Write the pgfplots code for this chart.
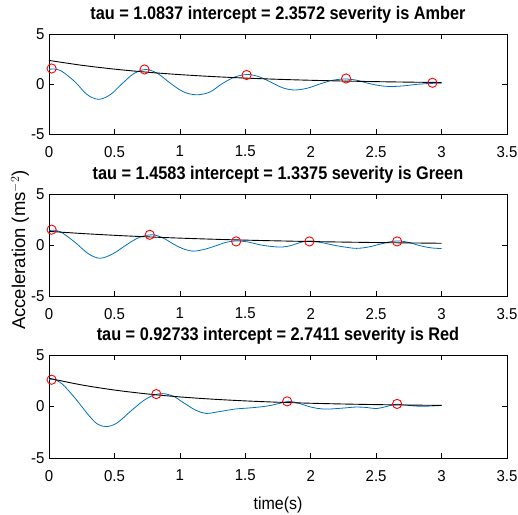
\documentclass[border=0pt]{standalone}
\usepackage{pgfplots}
\pgfplotsset{compat=1.18}
\usepackage{fontspec}
\setmainfont{Liberation Sans}
\definecolor{mblue}{rgb}{0,0.447,0.741}
\pgfplotsset{
  mstyle/.style={
    scale only axis, width=458pt,
    xmin=0, xmax=3.5, ymin=-5, ymax=5,
    xtick={0,0.5,...,3.5}, ytick={-5,0,5},
    xticklabels={0,0.5,1,1.5,2,2.5,3,3.5},
    tick align=inside, major tick length=5pt,
    tick style={black, line width=0.5pt},
    axis line style={black, line width=0.6pt},
    /pgf/number format/assume math mode=true,
    tick label style={font=\fontsize{15}{15}\selectfont, yscale=1.05},
    xticklabel style={yshift=-8pt},
    yticklabel style={xshift=-1pt},
    title style={font=\fontsize{16.3}{16.3}\selectfont\bfseries, at={(0.5,1)}, anchor=base, yshift=8.5pt, inner sep=0pt, yscale=1.12},
    clip=false,
  },
  blueline/.style={mblue, line width=0.8pt, smooth, tension=0.55, mark=none},
  blackline/.style={black, line width=0.9pt, smooth, mark=none},
  circs/.style={only marks, mark=o, mark size=4.6pt, red, mark options={line width=0.9pt}},
}
\begin{document}
\begin{tikzpicture}
\useasboundingbox (0pt,0pt) rectangle (518pt,514pt);
% ---- Axis 1 ----
\begin{axis}[mstyle, at={(49pt,380pt)}, anchor=south west, height=100pt,
  title={tau = 1.0837 intercept = 2.3572 severity is Amber}]
\addplot[blueline] coordinates {
(0,1.45) (0.04,1.5) (0.1,1.25) (0.2,0.2) (0.29,-1.05) (0.38,-1.53) (0.47,-1.05) (0.56,0.05) (0.65,1.05) (0.74,1.45)
(0.83,1.05) (0.93,0.05) (1.03,-0.8) (1.13,-1.08) (1.23,-0.8) (1.32,0) (1.42,0.7) (1.52,0.95)
(1.61,0.7) (1.70,0.15) (1.79,-0.4) (1.88,-0.6) (1.98,-0.4) (2.07,0) (2.17,0.38) (2.27,0.5)
(2.35,0.38) (2.43,0.1) (2.52,-0.15) (2.6,-0.25) (2.7,-0.2) (2.8,-0.05) (2.9,0.05) (3.0,0.08)};
\addplot[blackline] coordinates {
(0,2.357) (0.25,1.872) (0.5,1.486) (0.75,1.180) (1.0,0.937) (1.25,0.744) (1.5,0.591)
(1.75,0.469) (2.0,0.372) (2.25,0.296) (2.5,0.235) (2.75,0.186) (3.0,0.148)};
\addplot[circs] coordinates {(0.02,1.55) (0.73,1.45) (1.51,0.9) (2.27,0.55) (2.93,0.12)};
\end{axis}
% ---- Axis 2 ----
\begin{axis}[mstyle, at={(49pt,218pt)}, anchor=south west, height=102pt,
  title={tau = 1.4583 intercept = 1.3375 severity is Green},
  ylabel={Acceleration (ms$^{-2}$)},
  ylabel style={font=\fontsize{18.5}{18.5}\selectfont, at={(axis description cs:-0.0633,0.45)}, anchor=center, rotate=0}]
\addplot[blueline] coordinates {
(0,1.4) (0.04,1.45) (0.1,1.2) (0.2,0.25) (0.3,-0.85) (0.39,-1.3) (0.49,-0.85) (0.59,0) (0.69,0.75) (0.79,1.0)
(0.87,0.7) (0.95,0.1) (1.02,-0.35) (1.1,-0.6) (1.18,-0.45) (1.27,-0.1) (1.35,0.25) (1.43,0.4)
(1.52,0.3) (1.6,0.05) (1.69,-0.13) (1.78,-0.2) (1.85,-0.05) (1.92,0.25) (1.99,0.4)
(2.08,0.25) (2.17,0) (2.26,-0.2) (2.35,-0.33) (2.44,-0.2) (2.52,0.05) (2.6,0.3) (2.67,0.4)
(2.75,0.25) (2.83,-0.05) (2.92,-0.28) (3.0,-0.35)};
\addplot[blackline] coordinates {
(0,1.338) (0.25,1.127) (0.5,0.949) (0.75,0.800) (1.0,0.674) (1.25,0.568) (1.5,0.478)
(1.75,0.403) (2.0,0.339) (2.25,0.286) (2.5,0.241) (2.75,0.203) (3.0,0.171)};
\addplot[circs] coordinates {(0.02,1.5) (0.77,1.0) (1.43,0.35) (1.99,0.35) (2.66,0.35)};
\end{axis}
% ---- Axis 3 ----
\begin{axis}[mstyle, at={(49pt,56pt)}, anchor=south west, height=103pt,
  title={tau = 0.92733 intercept = 2.7411 severity is Red},
  xlabel={time(s)},
  xlabel style={font=\fontsize{16}{16}\selectfont, at={(axis description cs:0.5,-0.5)}, anchor=base, yscale=1.08}]
\addplot[blueline] coordinates {
(0,2.6) (0.03,2.65) (0.1,2.2) (0.2,0.8) (0.3,-0.8) (0.37,-1.7) (0.44,-1.95) (0.52,-1.6) (0.62,-0.5) (0.72,0.55) (0.8,1.1) (0.87,1.25)
(0.95,1.0) (1.03,0.35) (1.12,-0.35) (1.2,-0.67) (1.3,-0.5) (1.42,-0.25) (1.55,-0.12) (1.67,0.05) (1.76,0.3) (1.83,0.5)
(1.9,0.35) (1.98,0.02) (2.05,-0.18) (2.13,-0.25) (2.25,-0.15) (2.35,-0.05) (2.43,-0.1) (2.5,-0.2) (2.58,0.0) (2.65,0.22)
(2.75,0.1) (2.85,0.02) (3.0,0.1)};
\addplot[blackline] coordinates {
(0,2.741) (0.25,2.093) (0.5,1.599) (0.75,1.221) (1.0,0.932) (1.25,0.712) (1.5,0.544)
(1.75,0.415) (2.0,0.317) (2.25,0.242) (2.5,0.185) (2.75,0.141) (3.0,0.108)};
\addplot[circs] coordinates {(0.02,2.6) (0.82,1.2) (1.82,0.5) (2.66,0.25)};
\end{axis}
\end{tikzpicture}
\end{document}
